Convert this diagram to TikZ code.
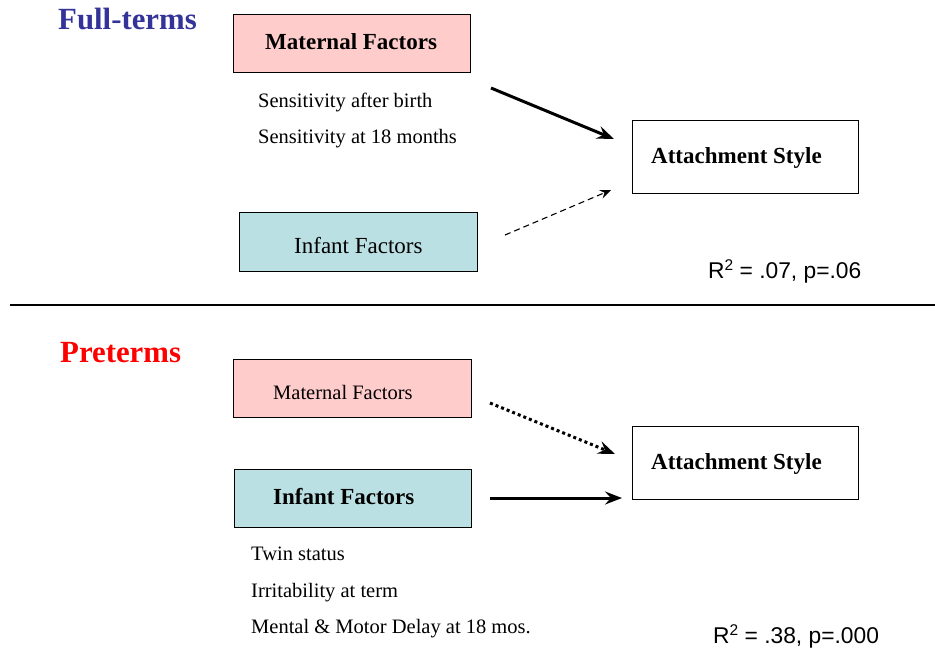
\documentclass[tikz,border=0pt]{standalone}
\usepackage{fontspec}
\setmainfont{Liberation Serif}
\newfontfamily\rsans{Liberation Sans}
\usetikzlibrary{arrows.meta}
\definecolor{mpink}{RGB}{255,204,204}
\definecolor{icyan}{RGB}{187,224,227}
\definecolor{ftblue}{RGB}{51,51,153}
\newcommand{\rsq}{R\raisebox{0.34em}{\fontsize{15.5}{15.5}\selectfont 2}}
\tikzset{
  box/.style={draw=black, line width=1.2pt, inner sep=0pt, anchor=north west},
  lbl/.style={anchor=base west, inner sep=0pt},
  bigb/.style={lbl, font=\fontsize{23}{26}\selectfont\bfseries},
  bigr/.style={lbl, font=\fontsize{23}{26}\selectfont},
  smr/.style={lbl, font=\fontsize{20.5}{24}\selectfont},
  ttl/.style={lbl, font=\fontsize{30.8}{34}\selectfont\bfseries},
  stat/.style={lbl, font=\rsans\fontsize{22.8}{24}\selectfont},
  thickarrow/.style={line width=3pt, -{Stealth[length=17pt,width=13pt,inset=6pt]}},
  thinarrow/.style={line width=1.1pt, dash pattern=on 6pt off 4pt, -{Stealth[length=11pt,width=9pt,inset=4pt]}},
  dotarrow/.style={line width=3pt, dash pattern=on 3pt off 3pt, -{Stealth[length=17pt,width=13pt,inset=6pt]}},
}
\begin{document}
\begin{tikzpicture}[x=1pt,y=-1pt]
\useasboundingbox (0,0) rectangle (935,649);
% Titles
\node[ttl, text=ftblue] (t1) at (58,29) {Full-terms};
\node[ttl, text=red] (t2) at (60,362) {Preterms};
% separator
\coordinate (sepL) at (10,305);
\coordinate (sepR) at (935,305);
\draw[line width=1.4pt] (sepL) -- (sepR);
% ---- Full-terms ----
\node[box, fill=mpink, minimum width=237pt, minimum height=58pt] (mf1) at (233,14) {};
\node[bigb] (mf1t) at (265,49) {Maternal Factors};
\node[smr] (s1) at (258,107) {Sensitivity after birth};
\node[smr] (s2) at (258,143.5) {Sensitivity at 18 months};
\node[box, fill=icyan, minimum width=238pt, minimum height=59pt] (if1) at (239,212) {};
\node[bigr] (if1t) at (294,253) {Infant Factors};
\node[box, fill=white, minimum width=226pt, minimum height=73pt] (as1) at (632,120) {};
\node[bigb] (as1t) at (651,163) {Attachment Style};
\node[stat] (r1) at (708,278) {\rsq{} = .07, p=.06};
\coordinate (a1s) at (491,88);
\coordinate (a1e) at (614,139);
\draw[thickarrow] (a1s) -- (a1e);
\coordinate (a2s) at (505,235);
\coordinate (a2e) at (611,190);
\draw[thinarrow] (a2s) -- (a2e);
% ---- Preterms ----
\node[box, fill=mpink, minimum width=238pt, minimum height=58pt] (mf2) at (233,359) {};
\node[smr] (mf2t) at (273,399) {Maternal Factors};
\node[box, fill=icyan, minimum width=237pt, minimum height=58pt] (if2) at (234,469) {};
\node[bigb] (if2t) at (273,504) {Infant Factors};
\node[smr] (l1) at (251,560) {Twin status};
\node[smr] (l2) at (251,597) {Irritability at term};
\node[smr] (l3) at (251,633.5) {Mental \& Motor Delay at 18 mos.};
\node[box, fill=white, minimum width=226pt, minimum height=73pt] (as2) at (632,426) {};
\node[bigb] (as2t) at (651,469) {Attachment Style};
\node[stat] (r2) at (713,643) {\rsq{} = .38, p=.000};
\coordinate (a3s) at (490,403);
\coordinate (a3e) at (615,454);
\draw[dotarrow] (a3s) -- (a3e);
\coordinate (a4s) at (490,498);
\coordinate (a4e) at (622,498);
\draw[thickarrow] (a4s) -- (a4e);
\end{tikzpicture}
\end{document}
